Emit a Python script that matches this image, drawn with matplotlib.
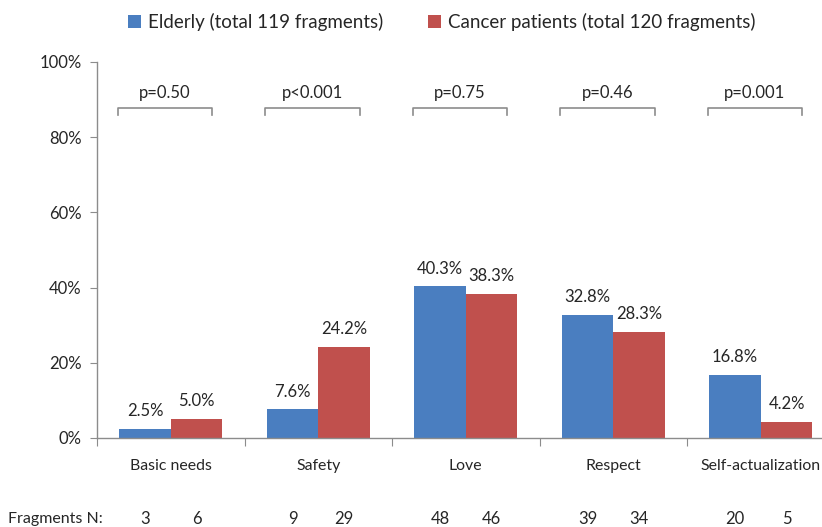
import matplotlib
matplotlib.use("Agg")
import matplotlib.pyplot as plt
import numpy as np

categories = ["Basic needs", "Safety", "Love", "Respect", "Self-actualization"]
elderly = [2.5, 7.6, 40.3, 32.8, 16.8]
cancer = [5.0, 24.2, 38.3, 28.3, 4.2]
elderly_n = [3, 9, 48, 39, 20]
cancer_n = [6, 29, 46, 34, 5]
pvalues = ["p=0.50", "p<0.001", "p=0.75", "p=0.46", "p=0.001"]
series_labels = ["Elderly (total 119 fragments)", "Cancer patients (total 120 fragments)"]

plt.rcParams['font.family'] = ['Lato', 'DejaVu Sans']
BLUE = "#4A7EC0"
RED = "#C0504D"
GRAY = "#8C8C8C"
TXT = "#262626"

fig = plt.figure(figsize=(8.22, 5.27), dpi=100)
W, H = 822, 527
left_px, right_px, top_px, bot_px = 97, 822, 62, 438
ax = fig.add_axes([left_px / W, 1 - bot_px / H, (right_px - left_px) / W, (bot_px - top_px) / H])

x = np.arange(len(categories))
bw = 0.35
ax.bar(x - bw / 2, elderly, bw, color=BLUE, label=series_labels[0])
ax.bar(x + bw / 2, cancer, bw, color=RED, label=series_labels[1])

unit_px = 147.5
xmax = -0.5 + (right_px - left_px) / unit_px
ax.set_xlim(-0.5, xmax)
ax.set_ylim(0, 100)

fs = 12
for xi, v in zip(x - bw / 2, elderly):
    ax.annotate(f"{v:.1f}%", (xi, v), xytext=(0, 7), textcoords="offset points",
                ha="center", va="bottom", fontsize=fs, color=TXT)
for xi, v in zip(x + bw / 2, cancer):
    ax.annotate(f"{v:.1f}%", (xi, v), xytext=(0, 7), textcoords="offset points",
                ha="center", va="bottom", fontsize=fs, color=TXT)

# p-value brackets
for xi, p in zip(x, pvalues):
    l, r = xi - 0.36, xi + 0.28
    ax.plot([l, l, r, r], [86.0, 87.8, 87.8, 86.0], color=GRAY, lw=1.2, clip_on=False)
    ax.text((l + r) / 2, 89.6, p, ha="center", va="bottom", fontsize=fs, color=TXT)

# axes styling
for s in ["top", "right"]:
    ax.spines[s].set_visible(False)
for s in ["left", "bottom"]:
    ax.spines[s].set_color(GRAY)
    ax.spines[s].set_linewidth(1.0)
ax.set_yticks(np.arange(0, 101, 20))
ax.set_yticklabels([f"{v}%" for v in range(0, 101, 20)], fontsize=fs, color=TXT)
ax.tick_params(axis="y", length=5, color=GRAY, pad=6)
ax.set_xticks(np.arange(-0.5, 4.5, 1.0))
ax.set_xticklabels([])
ax.tick_params(axis="x", length=6, color=GRAY)
for xi, c in zip(x, categories):
    ax.text(xi, -5.5, c, ha="center", va="top", fontsize=11.4, color=TXT, clip_on=False)

# Fragments N row
fig.text(8 / W, 1 - 519 / H, "Fragments N:", ha="left", va="center", fontsize=11.5, color=TXT)
for xi, a, b in zip(x, elderly_n, cancer_n):
    ax.text(xi - bw / 2, -21.5, str(a), ha="center", va="center", fontsize=fs, color=TXT, clip_on=False)
    ax.text(xi + bw / 2, -21.5, str(b), ha="center", va="center", fontsize=fs, color=TXT, clip_on=False)

# legend
leg = fig.legend(loc="center", bbox_to_anchor=(442 / W, 1 - 22 / H), ncol=2, frameon=False,
                 fontsize=13.5, handlelength=0.65, handleheight=0.65, handletextpad=0.4,
                 columnspacing=2.4, labelcolor=TXT)

fig.savefig("out.png", dpi=100, facecolor="white")
